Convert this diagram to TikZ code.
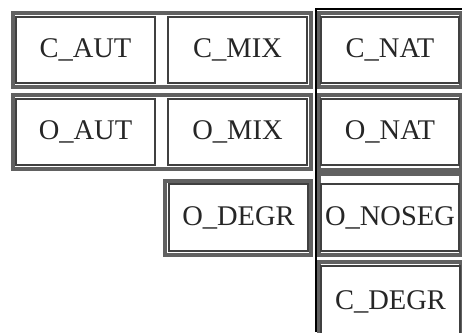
\documentclass[tikz,border=0pt]{standalone}
\usepackage{fontspec}
\setmainfont{Liberation Serif}
\begin{document}
\begin{tikzpicture}[x=1pt,y=-1pt,
  cell/.style={draw=black!75, line width=1.5pt, fill=white, inner sep=0pt,
    font=\fontsize{28.5}{31}\selectfont, text=black!85},
  frame/.style={draw=black!62, line width=3.2pt},
  rule/.style={draw=black, line width=1.2pt}]
\useasboundingbox (0,0) rectangle (462,332);
% outer frames
\draw[frame] (13,13) rectangle (311,87);
\draw[frame] (13,95) rectangle (311,169);
\draw[frame] (319,13) rectangle (461,87);
\draw[frame] (319,95) rectangle (461,170);
\draw[frame] (165,181) rectangle (311,255);
\draw[frame] (319,174) rectangle (461,255);
\draw[frame] (319,262) rectangle (461,340);
% cells
\node[cell, minimum width=139pt, minimum height=66pt] (caut) at (85.5,50) {C\_AUT};
\node[cell, minimum width=139pt, minimum height=66pt] (cmix) at (237.5,50) {C\_MIX};
\node[cell, minimum width=138pt, minimum height=66pt] (cnat) at (390,50) {C\_NAT};
\node[cell, minimum width=139pt, minimum height=66pt] (oaut) at (85.5,132) {O\_AUT};
\node[cell, minimum width=139pt, minimum height=66pt] (omix) at (237.5,132) {O\_MIX};
\node[cell, minimum width=138pt, minimum height=66pt] (onat) at (390,132) {O\_NAT};
\node[cell, minimum width=139pt, minimum height=67pt] (odegr) at (238.5,217.5) {O\_DEGR};
\node[cell, minimum width=138pt, minimum height=67pt] (onoseg) at (390,217.5) {O\_NOSEG};
\node[cell, minimum width=139pt, minimum height=72pt] (cdegr) at (390.5,302) {C\_DEGR};
% black rules
\coordinate (rt) at (316,9);
\coordinate (rr) at (462,9);
\coordinate (rb) at (316,332);
\draw[rule] (rr) -- (rt) -- (rb);
\end{tikzpicture}
\end{document}
